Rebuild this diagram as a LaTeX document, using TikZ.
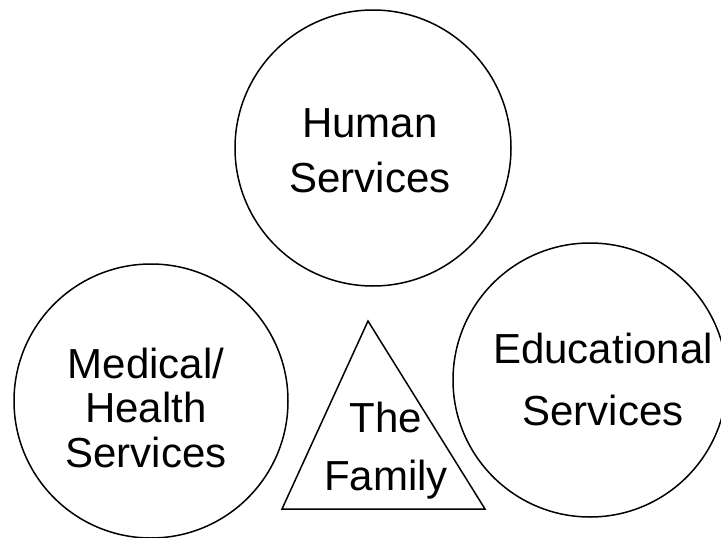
\documentclass[tikz,border=0pt]{standalone}
\usepackage{fontspec}
\setmainfont{Liberation Sans}
\usepackage{tikz}

\begin{document}
\begin{tikzpicture}[x=1pt,y=-1pt,line width=1.5pt]
\useasboundingbox (0,0) rectangle (721,538);
\draw (373,148) circle[radius=138];
\draw (151,401) circle[radius=137];
\draw (590,380) circle[radius=137];
\draw (282,509) -- (368,321) -- (485,509) -- cycle;
\node[inner sep=0pt,align=center,font=\fontsize{42}{55}\selectfont] (human) at (370,150.5) {Human\\Services};
\node[inner sep=0pt,align=center,font=\fontsize{42}{44.5}\selectfont] (medical) at (146,407.5) {Medical/\\Health\\Services};
\node[inner sep=0pt,align=center,font=\fontsize{42}{62}\selectfont] (educational) at (603,379) {Educational\\Services};
\node[inner sep=0pt,align=center,font=\fontsize{42}{58}\selectfont] (family) at (386,450.5) {The\\Family};
\end{tikzpicture}
\end{document}
